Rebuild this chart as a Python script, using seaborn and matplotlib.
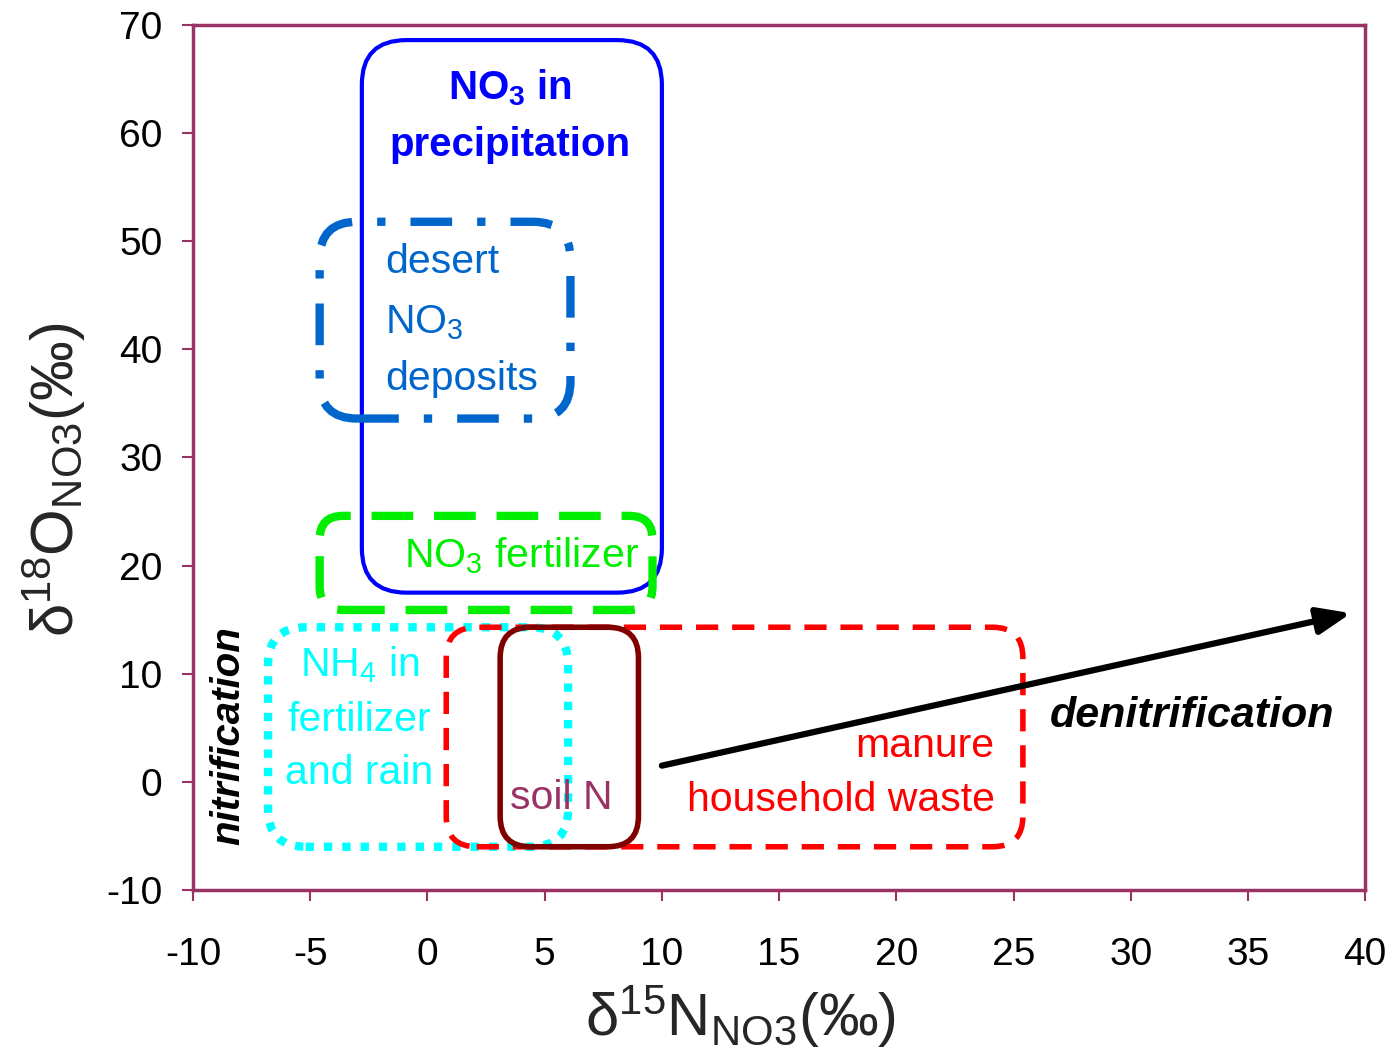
import numpy as np
import pandas as pd
import matplotlib
matplotlib.use("Agg")
import matplotlib.pyplot as plt
import seaborn as sns
from matplotlib.patches import FancyBboxPatch

sns.set_style("ticks")
plt.rcParams['font.family'] = ['Liberation Sans', 'DejaVu Sans']
plt.rcParams['mathtext.fontset'] = 'custom'
plt.rcParams['mathtext.rm'] = 'Liberation Sans'
plt.rcParams['mathtext.it'] = 'Liberation Sans:italic'
plt.rcParams['mathtext.bf'] = 'Liberation Sans:bold'
plt.rcParams['axes.unicode_minus'] = False

# source regions: delta15N range, delta18O range (permil)
sources = ['precipitation', 'desert', 'no3_fert', 'nh4', 'manure', 'soil']
n15_lo = [-2.8, -4.6, -4.6, -6.8, 0.8, 3.1]
n15_hi = [10.0, 6.1, 9.6, 6.0, 25.4, 9.0]
o18_lo = [17.5, 33.6, 15.9, -6.0, -6.0, -6.0]
o18_hi = [68.6, 51.8, 24.6, 14.3, 14.3, 14.3]

# denitrification trend
denit_n15 = [10.0, 39.4]
denit_o18 = [1.5, 15.6]

x_ticks = [-10, -5, 0, 5, 10, 15, 20, 25, 30, 35, 40]
y_ticks = [-10, 0, 10, 20, 30, 40, 50, 60, 70]

regions = pd.DataFrame({'source': sources, 'x0': n15_lo, 'x1': n15_hi,
                        'y0': o18_lo, 'y1': o18_hi})

styles = {
    'precipitation': dict(color='#0000FF', lw=3.0, ls='-', r=1.9),
    'desert': dict(color='#0066CC', lw=6.0, ls=(0, (5, 3, 1, 3)), r=1.6),
    'no3_fert': dict(color='#00EE00', lw=6.0, ls=(0, (5, 2.5)), r=1.0),
    'nh4': dict(color='#00FFFF', lw=6.0, ls=(0, (1, 1.2)), r=1.6),
    'manure': dict(color='#FF0000', lw=4.0, ls=(0, (4, 2.5)), r=1.3),
    'soil': dict(color='#800000', lw=4.0, ls='-', r=1.3),
}

fig = plt.figure(figsize=(13.93, 10.54), dpi=100)
ax = fig.add_axes([0.1386, 0.1556, 0.8414, 0.8207])
ax.set_xlim(-10, 40)
ax.set_ylim(-10, 70)

# aspect between data units in x and y on screen
aspect = (0.8414 * 13.93 / 50) / (0.8207 * 10.54 / 80)

for _, row in regions.iterrows():
    st = styles[row['source']]
    p = FancyBboxPatch((row['x0'], row['y0']), row['x1'] - row['x0'], row['y1'] - row['y0'],
                       boxstyle=f"round,pad=0,rounding_size={st['r']}",
                       mutation_aspect=aspect, fill=False, edgecolor=st['color'],
                       linewidth=st['lw'], linestyle=st['ls'], zorder=3)
    ax.add_patch(p)

ax.annotate('', xy=(denit_n15[1], denit_o18[1]), xytext=(denit_n15[0], denit_o18[0]),
            arrowprops=dict(arrowstyle='-|>,head_length=2.0,head_width=0.8',
                            color='black', lw=4.5, shrinkA=0, shrinkB=0), zorder=5)

fs = 29.5
ax.text(3.5, 64.2, r'NO$_\mathbf{3}$ in', color='#0000FF', fontsize=29, fontweight='bold',
        ha='center', va='center')
ax.text(3.5, 58.9, 'precipitation', color='#0000FF', fontsize=29, fontweight='bold',
        ha='center', va='center')
ax.text(-1.8, 48.1, 'desert', color='#0066CC', fontsize=fs, ha='left', va='center')
ax.text(-1.8, 42.5, r'NO$_3$', color='#0066CC', fontsize=fs, ha='left', va='center')
ax.text(-1.8, 37.3, 'deposits', color='#0066CC', fontsize=fs, ha='left', va='center')
ax.text(-1.0, 20.9, r'NO$_3$ fertilizer', color='#00EE00', fontsize=fs, ha='left', va='center')
ax.text(-2.9, 10.8, r'NH$_4$ in', color='#00FFFF', fontsize=fs, ha='center', va='center')
ax.text(-2.9, 5.7, 'fertilizer', color='#00FFFF', fontsize=fs, ha='center', va='center')
ax.text(-2.9, 0.8, 'and rain', color='#00FFFF', fontsize=fs, ha='center', va='center')
ax.text(5.7, -1.5, 'soil N', color='#993366', fontsize=fs, ha='center', va='center')
ax.text(24.2, 3.3, 'manure', color='#FF0000', fontsize=fs, ha='right', va='center')
ax.text(24.2, -1.7, 'household waste', color='#FF0000', fontsize=fs, ha='right', va='center')
ax.text(32.6, 6.1, 'denitrification', color='black', fontsize=31, fontweight='bold',
        fontstyle='italic', ha='center', va='center')
ax.text(-8.5, 4.3, 'nitrification', color='black', fontsize=29, fontweight='bold',
        fontstyle='italic', ha='center', va='center', rotation=90)

ax.set_xticks(x_ticks)
ax.set_yticks(y_ticks)
ax.tick_params(axis='both', labelsize=28, colors='#993366', labelcolor='black',
               width=1.5, length=8, direction='out')
ax.tick_params(axis='x', pad=26)
ax.tick_params(axis='y', pad=14)
for s in ax.spines.values():
    s.set_color('#993366')
    s.set_linewidth(2.5)

ax.set_xlabel(r'δ$^{15}$N$_{\mathrm{NO3}}$(‰)', fontsize=43)
ax.set_ylabel(r'δ$^{18}$O$_{\mathrm{NO3}}$(‰)', fontsize=43)
ax.xaxis.set_label_coords(0.467, -0.108)
ax.yaxis.set_label_coords(-0.09, 0.474)

fig.savefig('out.png', dpi=100)
